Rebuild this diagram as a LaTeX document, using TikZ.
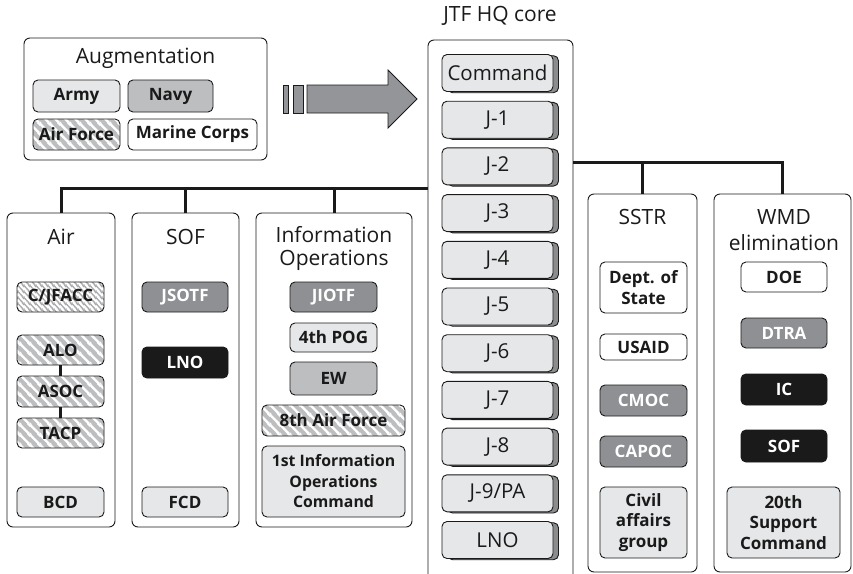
\documentclass[tikz,border=0pt]{standalone}
\usepackage{fontspec}
\setmainfont{Open Sans}
\usetikzlibrary{shadows,patterns.meta,calc}
\definecolor{lg}{HTML}{E6E7E8}
\definecolor{g2}{HTML}{BCBEC0}
\definecolor{mg}{HTML}{8E9093}
\definecolor{sg}{HTML}{8A8C8E}
\definecolor{ag}{HTML}{939598}
\definecolor{blk}{HTML}{1A1A1A}
\tikzdeclarepattern{
  name=widestripes, type=uncolored,
  bounding box={(0,0) and (10pt,10pt)},
  tile size={(10pt,10pt)},
  code={
    \pgfsetlinewidth{2.6pt}
    \pgfpathmoveto{\pgfqpoint{0pt}{10pt}}\pgfpathlineto{\pgfqpoint{10pt}{0pt}}
    \pgfpathmoveto{\pgfqpoint{-5pt}{5pt}}\pgfpathlineto{\pgfqpoint{5pt}{-5pt}}
    \pgfpathmoveto{\pgfqpoint{5pt}{15pt}}\pgfpathlineto{\pgfqpoint{15pt}{5pt}}
    \pgfusepath{stroke}
  }}
\tikzdeclarepattern{
  name=thinstripes, type=uncolored,
  bounding box={(0,0) and (6pt,6pt)},
  tile size={(6pt,6pt)},
  code={
    \pgfsetlinewidth{1.6pt}
    \pgfpathmoveto{\pgfqpoint{0pt}{6pt}}\pgfpathlineto{\pgfqpoint{6pt}{0pt}}
    \pgfpathmoveto{\pgfqpoint{-3pt}{3pt}}\pgfpathlineto{\pgfqpoint{3pt}{-3pt}}
    \pgfpathmoveto{\pgfqpoint{3pt}{9pt}}\pgfpathlineto{\pgfqpoint{9pt}{3pt}}
    \pgfusepath{stroke}
  }}
\tikzset{
  panel/.style={draw=blk, line width=0.9pt, rounded corners=6pt, fill=white},
  ptitle/.style={font=\fontsize{21}{23}\selectfont, align=center, text=blk, inner sep=0pt},
  ibox/.style={draw=blk, line width=0.9pt, rounded corners=5pt, inner sep=0pt, align=center,
    font=\bfseries\fontsize{17}{20}\selectfont, text=blk},
  light/.style={ibox, fill=lg},
  wbox/.style={ibox, fill=white},
  midg/.style={ibox, fill=mg, text=white},
  ltg/.style={ibox, fill=g2},
  dark/.style={ibox, fill=blk, text=white},
  hatchw/.style={ibox, preaction={fill=g2}, pattern={widestripes}, pattern color=white},
  hatcht/.style={ibox, preaction={fill=white}, pattern={thinstripes}, pattern color=g2!90!black},
  jbox/.style={draw=blk, line width=0.9pt, rounded corners=5pt, fill=lg, inner sep=0pt,
    minimum width=111pt, minimum height=37pt, font=\fontsize{20.5}{22}\selectfont, text=blk,
    general shadow={draw=blk, line width=0.9pt, fill=sg, shadow xshift=5.5pt, shadow yshift=-1.2pt}},
  conn/.style={line width=3pt, draw=blk, line join=miter},
  aconn/.style={line width=2.6pt, draw=blk},
  arr/.style={draw=blk, line width=0.8pt, fill=ag},
  multi/.style={font=\bfseries\fontsize{17}{20.5}\selectfont},
}
\begin{document}
\begin{tikzpicture}[x=1pt,y=-1pt]
\useasboundingbox (0,0) rectangle (853,573);
% ---------------- panels and connector lines
\coordinate (lj) at (428,188);
\coordinate (rj) at (573,162);
\node[panel, minimum width=108pt, minimum height=314pt] (air) at (61,370) {};
\node[panel, minimum width=107pt, minimum height=314pt] (sof) at (185.5,370) {};
\node[panel, minimum width=156pt, minimum height=314pt] (io) at (334,370) {};
\node[panel, minimum width=109pt, minimum height=378pt] (sstr) at (642.5,383) {};
\node[panel, minimum width=137pt, minimum height=378pt] (wmd) at (782.5,383) {};
\node[panel, minimum width=145pt, minimum height=545pt] (jtf) at (500.5,312.5) {};
\draw[conn] (air.north) |- (lj);
\draw[conn] (sof.north) -- (sof.north |- lj);
\draw[conn] (io.north) -- (io.north |- lj);
\draw[conn] (rj) -| (wmd.north);
\draw[conn] (sstr.north) -- (sstr.north |- rj);
% ---------------- augmentation
\node[panel, minimum width=243pt, minimum height=122pt] (aug) at (145.5,99) {};
\node[ptitle] (augt) at (145.5,58) {Augmentation};
\node[light, minimum width=87pt, minimum height=32pt] (army) at (76.5,96) {Army};
\node[ltg, minimum width=85pt, minimum height=32pt] (navy) at (170.5,96) {Navy};
\node[hatchw, minimum width=87pt, minimum height=31pt] (airf) at (76.5,134.5) {Air Force};
\node[wbox, minimum width=129pt, minimum height=31pt] (marine) at (192.5,134.5) {Marine Corps};
% arrow
\draw[arr] (283,85) rectangle (288.5,113);
\draw[arr] (293,85) rectangle (303,113);
\draw[arr] (307,85) -- (388,85) -- (388,70) -- (417,99) -- (388,128) -- (388,113) -- (307,113) -- cycle;
% ---------------- JTF HQ core
\node[ptitle] (jtft) at (500,16) {JTF HQ core};
\foreach \t [count=\i from 0] in {Command,J-1,J-2,J-3,J-4,J-5,J-6,J-7,J-8,J-9/PA,LNO}
  \node[jbox] (j\i) at (497.5,{73+46.7*\i}) {\t};
% ---------------- Air
\node[ptitle] (airt) at (61,237) {Air};
\node[hatcht, minimum width=87pt, minimum height=30pt] (cjf) at (60.5,297) {C/JFACC};
\node[hatchw, minimum width=87pt, minimum height=30pt] (alo) at (60.5,350) {ALO};
\node[hatchw, minimum width=87pt, minimum height=31pt] (asoc) at (60.5,391.5) {ASOC};
\node[hatchw, minimum width=87pt, minimum height=30pt] (tacp) at (60.5,433) {TACP};
\draw[aconn] (alo) -- (asoc);
\draw[aconn] (asoc) -- (tacp);
\node[light, minimum width=87pt, minimum height=30pt] (bcd) at (60.5,502) {BCD};
% ---------------- SOF
\node[ptitle] (soft) at (185.5,237) {SOF};
\node[midg, minimum width=86pt, minimum height=30pt] (jsotf) at (185,297) {JSOTF};
\node[dark, minimum width=86pt, minimum height=31pt] (lno) at (185,362.5) {LNO};
\node[light, minimum width=86pt, minimum height=30pt] (fcd) at (185,502) {FCD};
% ---------------- Information Operations
\node[ptitle] (iot) at (334,248.5) {Information\\Operations};
\node[midg, minimum width=87pt, minimum height=30pt] (jiotf) at (333.5,297) {JIOTF};
\node[light, minimum width=87pt, minimum height=29pt] (pog) at (333.5,337.5) {4th POG};
\node[ltg, minimum width=87pt, minimum height=33pt] (ew) at (333.5,378.5) {EW};
\node[hatchw, minimum width=143pt, minimum height=31pt] (eaf) at (333.5,420.5) {8th Air Force};
\node[light, minimum width=143pt, minimum height=71pt, font=\bfseries\fontsize{15.8}{20.5}\selectfont] (ioc) at (333.5,481.5) {1st Information\\Operations\\Command};
% ---------------- SSTR
\node[ptitle] (sstrt) at (642.5,217) {SSTR};
\node[wbox, multi, minimum width=87pt, minimum height=51pt] (dos) at (643.5,287.5) {Dept. of\\State};
\node[wbox, minimum width=87pt, minimum height=26pt] (usaid) at (643.5,347) {USAID};
\node[midg, minimum width=87pt, minimum height=31pt] (cmoc) at (643.5,400.5) {CMOC};
\node[midg, minimum width=87pt, minimum height=31pt] (capoc) at (643.5,451.5) {CAPOC};
\node[light, multi, minimum width=87pt, minimum height=71pt] (cag) at (643.5,522.5) {Civil\\affairs\\group};
% ---------------- WMD
\node[ptitle, font=\fontsize{21}{26}\selectfont] (wmdt) at (784,230) {WMD\\elimination};
\node[wbox, minimum width=86pt, minimum height=30pt] (doe) at (784,277) {DOE};
\node[midg, minimum width=86pt, minimum height=30pt] (dtra) at (784,333) {DTRA};
\node[dark, minimum width=86pt, minimum height=31pt] (ic) at (784,389.5) {IC};
\node[dark, minimum width=86pt, minimum height=32pt] (sofw) at (784,446) {SOF};
\node[light, multi, minimum width=113pt, minimum height=71pt] (tsc) at (783.5,522.5) {20th\\Support\\Command};
\end{tikzpicture}
\end{document}
